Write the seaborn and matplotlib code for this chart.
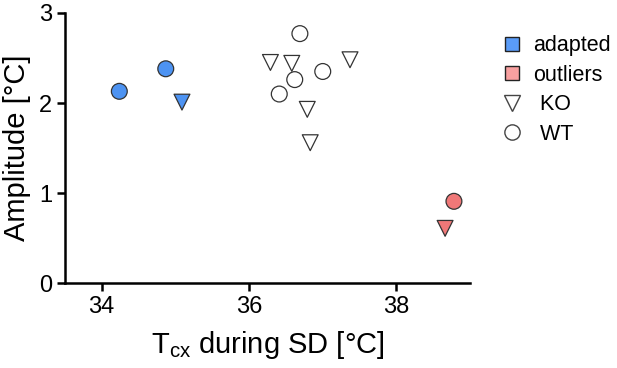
import pandas as pd
import matplotlib.pyplot as plt
import seaborn as sns
from matplotlib.lines import Line2D

# Values
ko_temp = [35.09, 36.29, 36.58, 37.37, 36.79, 36.83, 38.66]
ko_amp = [2.01, 2.45, 2.44, 2.48, 1.93, 1.56, 0.61]
ko_group = ['adapted', 'normal', 'normal', 'normal', 'normal', 'normal', 'outliers']

wt_temp = [34.24, 34.87, 36.69, 37.00, 36.62, 36.41, 38.78]
wt_amp = [2.13, 2.38, 2.77, 2.35, 2.26, 2.10, 0.91]
wt_group = ['adapted', 'adapted', 'normal', 'normal', 'normal', 'normal', 'outliers']

x_ticks = [34, 36, 38]
y_ticks = [0, 1, 2, 3]

df = pd.DataFrame({
    'temp': ko_temp + wt_temp,
    'amp': ko_amp + wt_amp,
    'group': ko_group + wt_group,
    'genotype': ['KO'] * len(ko_temp) + ['WT'] * len(wt_temp),
})

sns.set_style('ticks')
plt.rcParams['font.family'] = ['Liberation Sans', 'DejaVu Sans']
plt.rcParams['text.color'] = 'black'
plt.rcParams['axes.labelcolor'] = 'black'
plt.rcParams['xtick.color'] = 'black'
plt.rcParams['ytick.color'] = 'black'

palette = {'adapted': '#4d93f2', 'outliers': '#f07878', 'normal': 'white'}
markers = {'KO': 'v', 'WT': 'o'}

fig = plt.figure(figsize=(6.17, 3.68), dpi=100)
ax = fig.add_axes([0.105, 0.23, 0.657, 0.735])

sns.scatterplot(data=df, x='temp', y='amp', hue='group', style='genotype',
                palette=palette, markers=markers, s=130, edgecolor='#333333',
                linewidth=0.9, legend=False, ax=ax, zorder=3)

ax.set_xlim(33.5, 39.0)
ax.set_ylim(0, 3)
ax.set_xticks(x_ticks)
ax.set_yticks(y_ticks)
ax.tick_params(axis='both', labelsize=17, width=1.8, length=6, color='black',
               labelcolor='black', pad=3)
for s in ['left', 'bottom']:
    ax.spines[s].set_linewidth(1.8)
    ax.spines[s].set_color('black')
sns.despine(ax=ax)

ax.set_xlabel(r'T$_{\mathregular{cx}}$ during SD [°C]', fontsize=21, labelpad=8)
ax.set_ylabel('Amplitude [°C]', fontsize=21, labelpad=6)

# Legend
handles = [
    Line2D([], [], marker='s', ls='', markersize=10, markerfacecolor='#5a9cf8', markeredgecolor='#222222'),
    Line2D([], [], marker='s', ls='', markersize=10, markerfacecolor='#f8a0a0', markeredgecolor='#222222'),
    Line2D([], [], marker='v', ls='', markersize=11, markerfacecolor='white', markeredgecolor='#444444'),
    Line2D([], [], marker='o', ls='', markersize=11, markerfacecolor='white', markeredgecolor='#444444'),
]
labels = ['adapted', 'outliers', ' KO', ' WT']
fig.legend(handles, labels, loc='upper left', bbox_to_anchor=(0.802, 0.928),
           frameon=False, fontsize=15.5, handlelength=0.8, handletextpad=0.6,
           labelspacing=0.4, borderaxespad=0)

plt.savefig('out.png', dpi=100)
plt.close()
